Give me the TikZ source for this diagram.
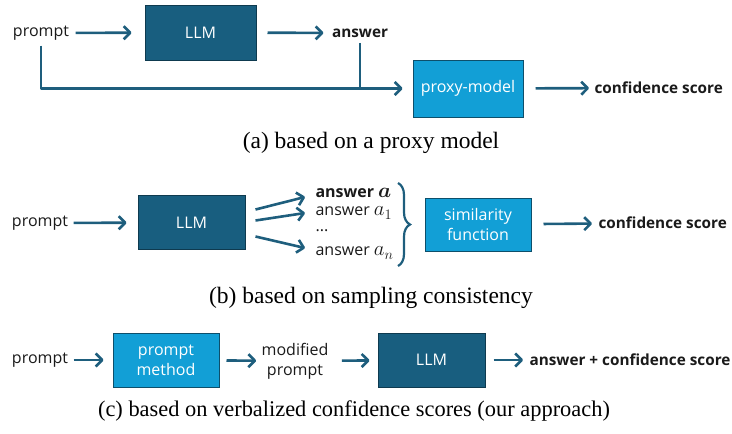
\documentclass[tikz,border=0pt]{standalone}
\usepackage{fontspec}
\setmainfont{Liberation Serif}
\setsansfont{Open Sans}
\usetikzlibrary{arrows.meta,decorations.pathreplacing,calc}

\definecolor{llmblue}{HTML}{185E7F}
\definecolor{llmedge}{HTML}{0E3A4F}
\definecolor{auxblue}{HTML}{129FD6}
\definecolor{auxedge}{HTML}{0D4F6B}
\definecolor{flowblue}{HTML}{1E5E7D}
\definecolor{inkgray}{HTML}{1A1A1A}

\newcommand*{\mvar}[1]{{\fontsize{20}{20}\selectfont$#1$}}

\tikzset{
  txt/.style={text=inkgray, font=\sffamily\fontsize{16}{20}\selectfont, align=center},
  boldtxt/.style={txt, font=\sffamily\bfseries\fontsize{15.3}{20}\selectfont},
  llmbox/.style={draw=llmedge, line width=1pt, fill=llmblue, text=white,
    font=\sffamily\fontsize{16}{20}\selectfont, align=center},
  auxbox/.style={draw=auxedge, line width=1pt, fill=auxblue, text=white,
    font=\sffamily\fontsize{16}{20}\selectfont, align=center},
  flow/.style={draw=flowblue, line width=2.6pt, line join=round,
    -{Straight Barb[length=6.5pt,width=13pt,line join=round]}},
  flowline/.style={draw=flowblue, line width=2.6pt},
  brace/.style={draw=flowblue, line width=2.2pt, decorate,
    decoration={brace, amplitude=12pt}},
  caption/.style={text=black, font=\fontsize{23.5}{27}\selectfont},
}

\begin{document}
\begin{tikzpicture}[x=1pt, y=-1pt]
\useasboundingbox (0,0) rectangle (732,434);

\def\bw{107}
\def\bh{54}

% (a) proxy model
\node[txt] (pa) at (41,33) {prompt};
\node[llmbox, minimum width=111, minimum height=55] (llma) at (200.5,32.5) {LLM};
\node[boldtxt] (ansa) at (360,33) {answer};
\node[auxbox, minimum width=110, minimum height=57] (proxy) at (468,88.5) {proxy-model};
\node[boldtxt, anchor=west] (confa) at (591,88) {confidence score};

\draw[flow, shorten <=3, shorten >=13] (pa) -- (llma);
\draw[flow, shorten <=11, shorten >=5] (llma) -- (ansa);
\draw[flow, shorten <=2, shorten >=10] (pa.south) |- (proxy.west);
\draw[flowline, shorten <=2] (ansa.south) -- (ansa.south |- proxy.west);
\draw[flow, shorten <=12, shorten >=2] (proxy) -- (confa);

\node[caption] (capa) at (371,143) {(a) based on a proxy model};

% (b) sampling consistency
\node[txt] (pb) at (40,223) {prompt};
\node[llmbox, minimum width=\bw, minimum height=\bh] (llmb) at (191.5,222.5) {LLM};
\node[txt, anchor=west] (a0) at (312,193) {\textbf{answer} {\boldmath\mvar{a}}};
\node[txt, anchor=west] (a1) at (312,213) {answer \mvar{a_1}};
\node[txt, anchor=west] (ad) at (312,231) {...};
\node[txt, anchor=west] (an) at (312,253) {answer \mvar{a_n}};
\node[auxbox, minimum width=106, minimum height=53] (simf) at (478,224.5) {similarity\\function};
\node[boldtxt, anchor=west] (confb) at (595,223) {confidence score};

\draw[flow, shorten <=2, shorten >=11] (pb) -- (llmb);
\draw[flow] ($(llmb.east)+(10,-13)$) -- ($(a0.west)+(-7,4)$);
\draw[flow] ($(llmb.east)+(10,-2)$) -- ($(a1.west)+(-7,0)$);
\draw[flow] ($(llmb.east)+(10,14)$) -- ($(an.west)+(-7,-5)$);
\coordinate (btop) at (398,183);
\coordinate (bbot) at (398,266);
\draw[brace] (btop) -- (bbot);
\draw[flow, shorten <=12, shorten >=3] (simf) -- (confb);

\node[caption] (capb) at (371,298) {(b) based on sampling consistency};

% (c) verbalized confidence
\node[txt] (pc) at (40,360) {prompt};
\node[auxbox, minimum width=106, minimum height=\bh] (pm) at (166,360) {prompt\\method};
\node[txt] (mp) at (295,361) {modified\\prompt};
\node[llmbox, minimum width=\bw, minimum height=\bh] (llmc) at (431.5,360) {LLM};
\node[boldtxt, anchor=west] (ansc) at (526,360) {answer + confidence score};

\draw[flow, shorten <=2, shorten >=9] (pc) -- (pm);
\draw[flow, shorten <=7, shorten >=2] (pm) -- (mp);
\draw[flow, shorten <=10, shorten >=8] (mp) -- (llmc);
\draw[flow, shorten <=8, shorten >=3] (llmc) -- (ansc);

\node[caption, font=\fontsize{22.4}{27}\selectfont] (capc) at (354,411) {(c) based on verbalized confidence scores (our approach)};
\end{tikzpicture}
\end{document}
